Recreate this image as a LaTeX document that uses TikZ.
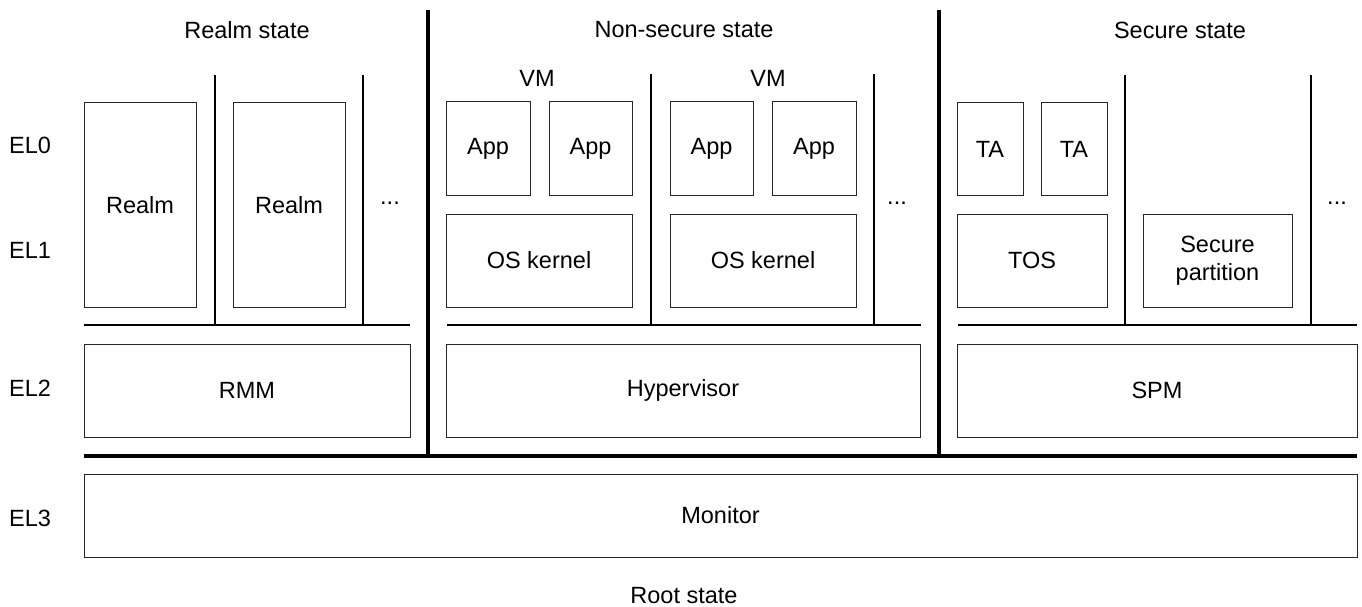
\documentclass[tikz,border=0pt]{standalone}
\usepackage{fontspec}
\setmainfont{Liberation Sans}
\usetikzlibrary{positioning}

\begin{document}
\begin{tikzpicture}[x=1pt,y=-1pt,
    part/.style={draw=black!85,line width=1pt,inner sep=0pt,align=center,font=\fontsize{23.5}{28}\selectfont},
    label/.style={inner sep=0pt,font=\fontsize{23.5}{28}\selectfont},
    divider/.style={line width=2pt},
    border/.style={line width=4pt}
  ]
    \useasboundingbox (0,0) rectangle (1362,607);

    % State titles
    \node[label] (rt) at (247,30) {Realm state};
    \node[label] (nt) at (684,30) {Non-secure state};
    \node[label] (st) at (1180,30) {Secure state};
    \node[label] (ot) at (684,596) {Root state};

    % Exception levels
    \node[label] (el0) at (30,145) {EL0};
    \node[label] (el1) at (30,250) {EL1};
    \node[label] (el2) at (30,388) {EL2};
    \node[label] (el3) at (30,518) {EL3};

    % Realm state - realms and RMM
    \node[part,minimum width=112,minimum height=204] (r1) at (140,205) {Realm};
    \node[part,minimum width=112,minimum height=204] (r2) at (289,205) {Realm};
    \node[label] (rd) at (390,203) {...};
    \node[part,minimum width=326,minimum height=93] (rmm) at (247,390.5) {RMM};

    % Non-secure state - VMs and hypervisor
    \node[label] (vm1) at (537,78) {VM};
    \node[label] (vm2) at (768,78) {VM};
    \node[part,minimum width=84,minimum height=93] (a1) at (488,148.5) {App};
    \node[part,minimum width=83,minimum height=93] (a2) at (590.5,148.5) {App};
    \node[part,minimum width=186,minimum height=93] (os1) at (539,260.5) {OS kernel};
    \node[part,minimum width=83,minimum height=93] (a3) at (711.5,148.5) {App};
    \node[part,minimum width=84,minimum height=93] (a4) at (814,148.5) {App};
    \node[part,minimum width=186,minimum height=93] (os2) at (763,260.5) {OS kernel};
    \node[label] (nd) at (897,203) {...};
    \node[part,minimum width=474,minimum height=93] (hyp) at (683,390.5) {Hypervisor};

    % Secure state - TAs, TOS, partition and SPM
    \node[part,minimum width=66,minimum height=92] (ta1) at (990,149) {TA};
    \node[part,minimum width=66,minimum height=92] (ta2) at (1074,149) {TA};
    \node[part,minimum width=150,minimum height=93] (tos) at (1032,260.5) {TOS};
    \node[part,minimum width=149,minimum height=93] (sp) at (1217.5,260.5) {Secure\\partition};
    \node[label] (sd) at (1337,203) {...};
    \node[part,minimum width=400,minimum height=93] (spm) at (1157,390.5) {SPM};

    % Root state - monitor
    \node[part,minimum width=1273,minimum height=83] (mon) at (720.5,515.5) {Monitor};

    % Separators between partitions
    \draw[divider] (215,75) -- (215,325);
    \draw[divider] (363,75) -- (363,325);
    \draw[divider] (651,74) -- (651,325);
    \draw[divider] (874,74) -- (874,325);
    \draw[divider] (1125,75) -- (1125,325);
    \draw[divider] (1311,75) -- (1311,325);
    \draw[divider] (84,325) -- (410,325);
    \draw[divider] (447,325) -- (921,325);
    \draw[divider] (958,325) -- (1357,325);

    % Separators between states
    \draw[border] (428,10) -- (428,456);
    \draw[border] (939,10) -- (939,456);
    \draw[border] (84,456) -- (1357,456);
  \end{tikzpicture}
\end{document}
